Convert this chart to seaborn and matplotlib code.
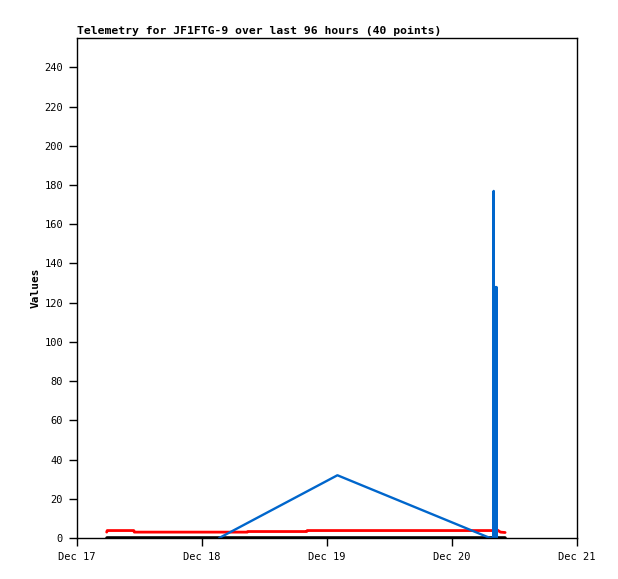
import matplotlib
matplotlib.use("Agg")
import matplotlib.pyplot as plt
import matplotlib.dates as mdates
import seaborn as sns
import pandas as pd
import numpy as np

# Data: hours after Dec 17 00:00
base = pd.Timestamp("2023-12-17 00:00")
black_hours = [5.8, 82.2]
black_vals = [0, 0]
red_hours = [5.7, 5.8, 10.9, 11.0, 32.7, 32.8, 44.1, 44.2, 80.5, 80.7, 81.3, 82.2]
red_vals = [3.0, 3.8, 3.8, 3.0, 3.0, 3.3, 3.3, 3.8, 3.8, 4.1, 3.0, 2.8]
blue_hours = [27.3, 50.0, 79.3, 79.95, 80.0, 80.03, 80.15, 80.25, 80.35, 80.45, 80.55, 80.6]
blue_vals = [0, 32, 0, 0, 177, 0, 128, 0, 128, 0, 128, 0]
title = "Telemetry for JF1FTG-9 over last 96 hours (40 points)"

def mk(h, v):
    return pd.DataFrame({"t": [base + pd.Timedelta(hours=x) for x in h], "v": v})

sns.set_style("white")
plt.rcParams['font.family'] = ['DejaVu Sans Mono']
plt.rcParams['text.color'] = 'black'
plt.rcParams['axes.labelcolor'] = 'black'

fig = plt.figure(figsize=(6.18, 5.79), dpi=100)
ax = fig.add_axes([77/618, 1-538/579, 500/618, 500/579])

sns.lineplot(data=mk(black_hours, black_vals), x="t", y="v", ax=ax, color="black", lw=2.6, estimator=None, sort=False)
sns.lineplot(data=mk(red_hours, red_vals), x="t", y="v", ax=ax, color="#ff0000", lw=2.0, estimator=None, sort=False)
sns.lineplot(data=mk(blue_hours, blue_vals), x="t", y="v", ax=ax, color="#0066cc", lw=1.7, estimator=None, sort=False)

ax.set_xlim(base, base + pd.Timedelta(days=4))
ax.set_ylim(0, 255)
ax.set_yticks(np.arange(0, 241, 20))
ax.xaxis.set_major_locator(mdates.DayLocator())
ax.xaxis.set_major_formatter(mdates.DateFormatter("%b %d"))
ax.tick_params(axis="both", direction="out", length=6, width=1, labelsize=7.5, colors="black", pad=4)
ax.tick_params(left=True, bottom=True)
for s in ax.spines.values():
    s.set_color("black")
    s.set_linewidth(1)
ax.set_xlabel("")
ax.set_ylabel("Values", fontsize=8, fontweight="bold", labelpad=3, color="black")
ax.set_title(title, loc="left", fontsize=8.2, fontweight="bold", pad=3, color="black")
ax.grid(False)

fig.savefig("out.png", dpi=100)
